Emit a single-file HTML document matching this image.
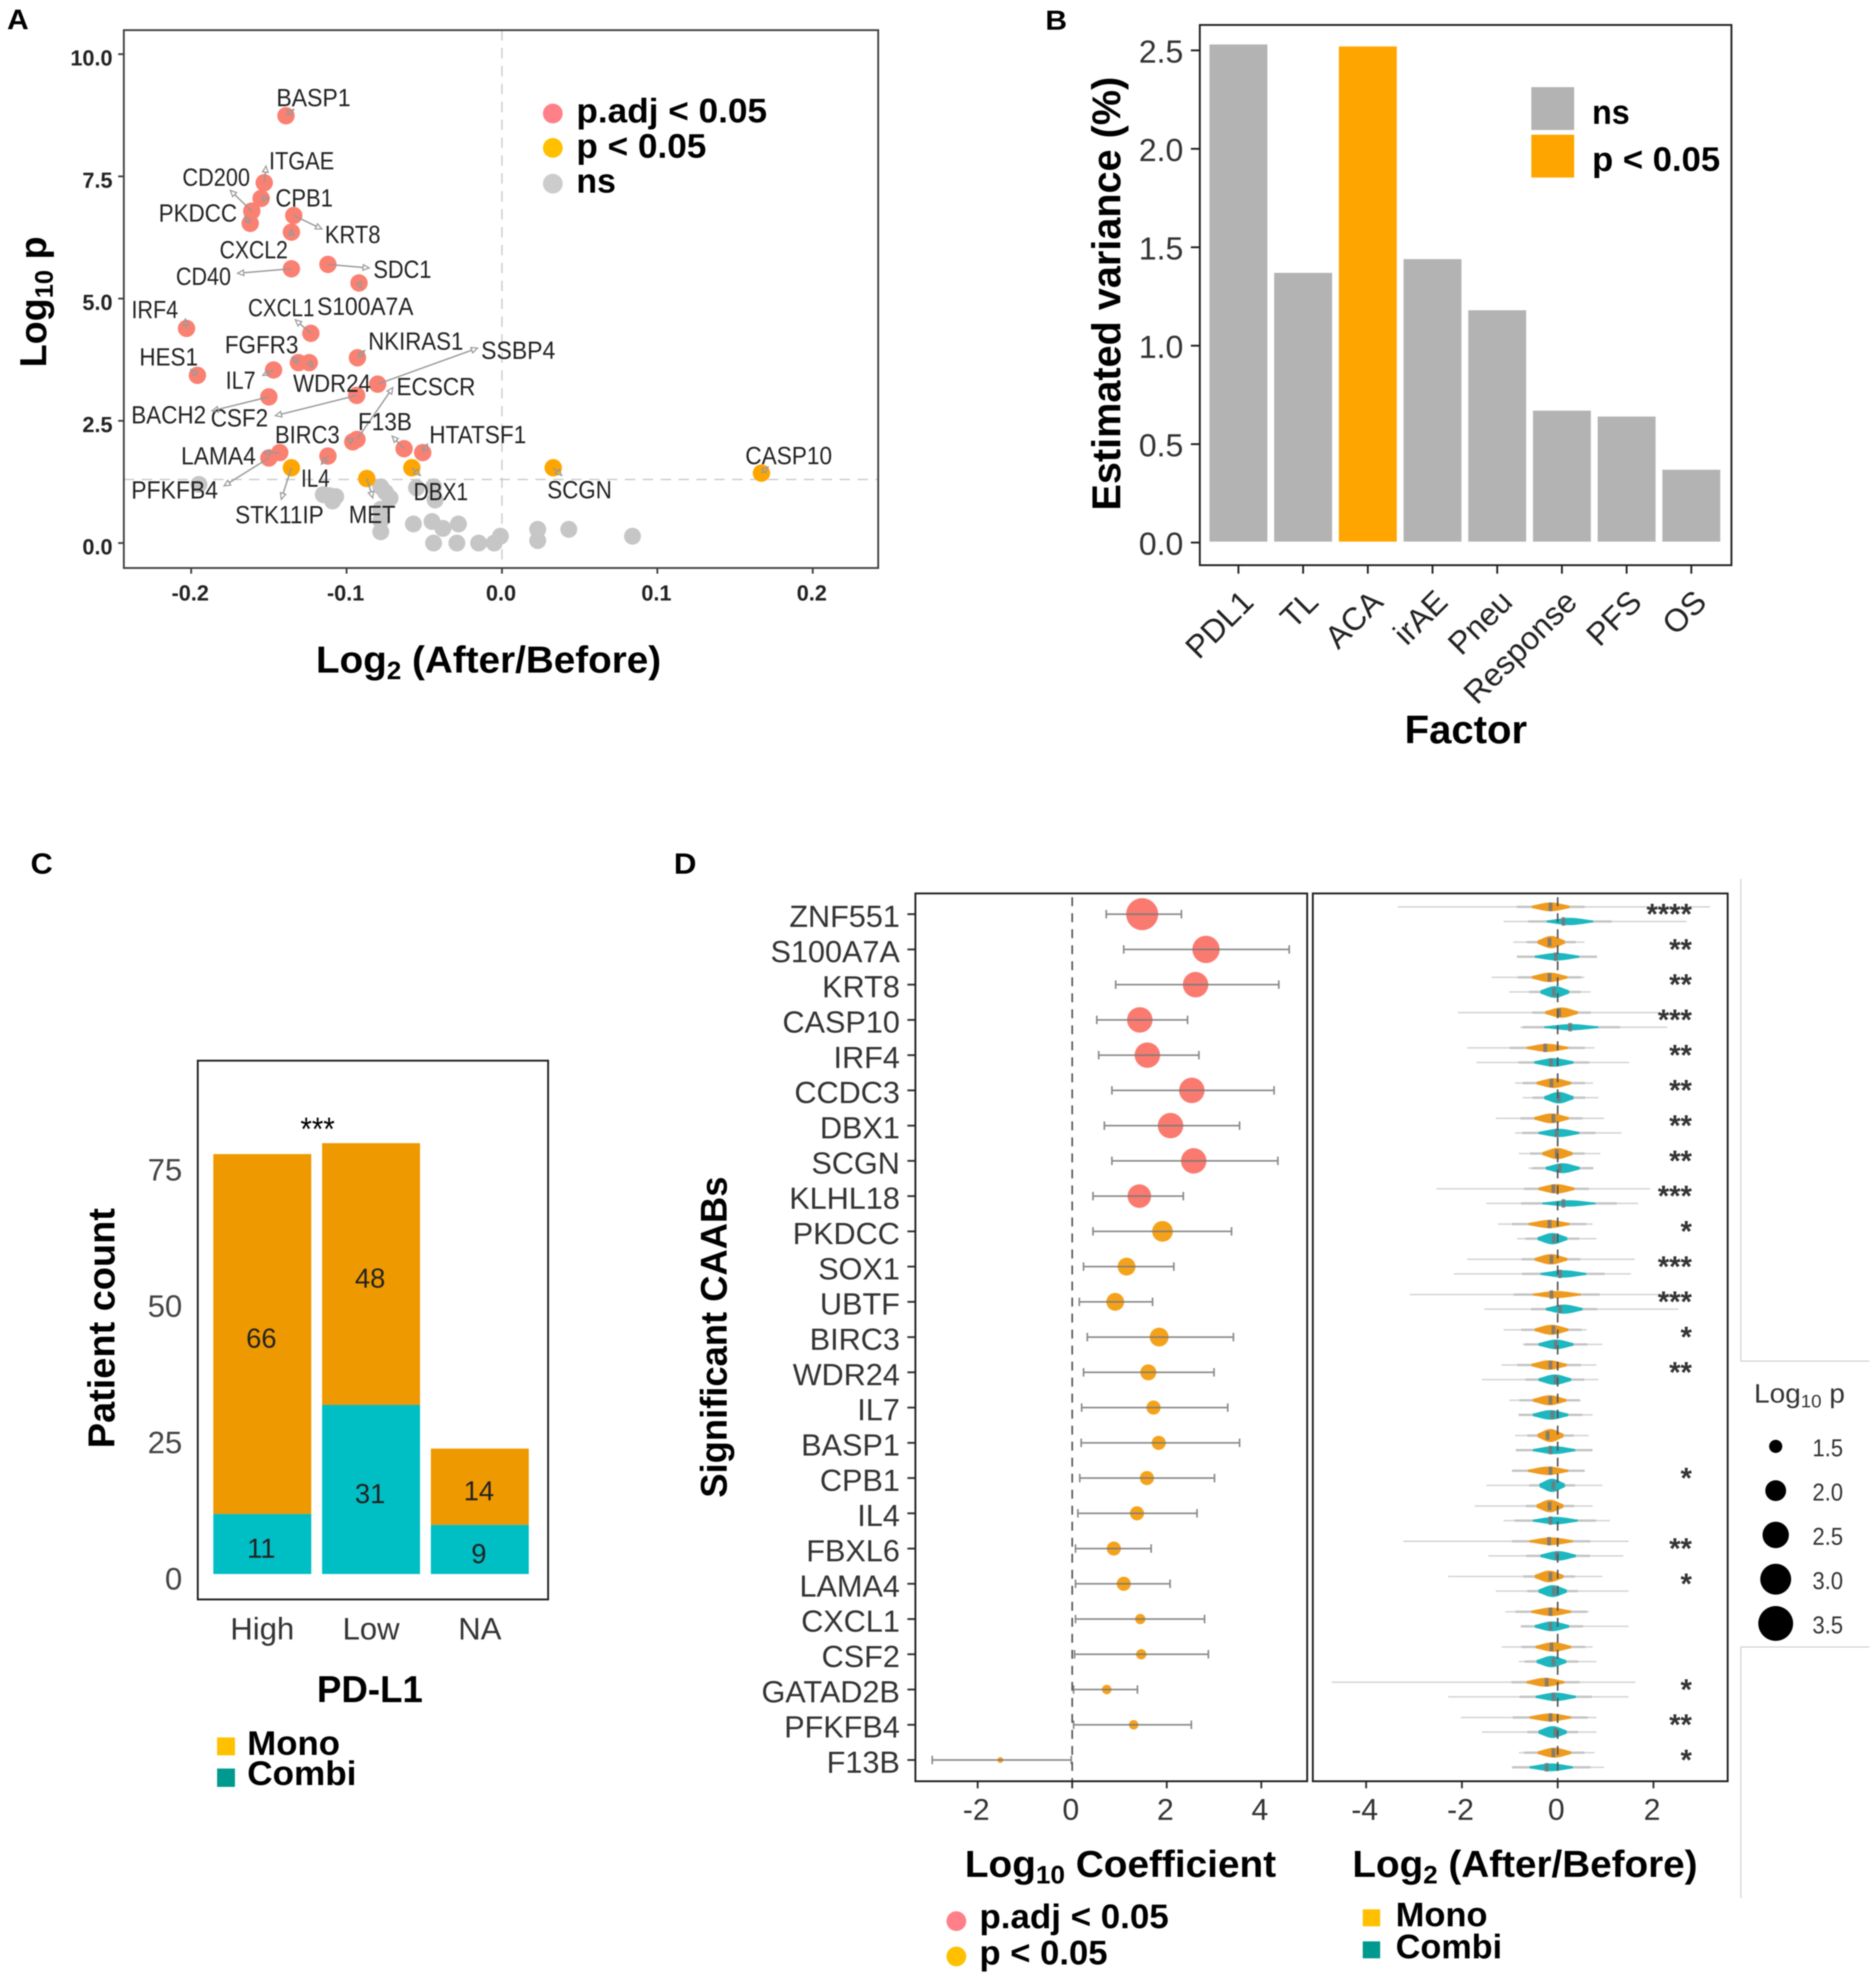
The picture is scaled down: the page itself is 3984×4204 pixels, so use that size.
<!DOCTYPE html>
<html lang="en">
<head>
<meta charset="utf-8">
<title>CAAB multi-panel figure</title>
<style>
html,body{margin:0;padding:0;background:#fff}
svg{display:block;filter:blur(1.2px)}
text{font-family:"Liberation Sans",Arial,sans-serif}
.b{font-weight:700;fill:#000}
</style>
</head>
<body>
<svg id="chart" xmlns="http://www.w3.org/2000/svg" width="3984" height="4204" viewBox="0 0 3984 4204">
<rect x="0" y="0" width="3984" height="4204" fill="#fff"/>

<!-- Panel letters -->
<text class="b" x="15" y="62" font-size="60" textLength="46" lengthAdjust="spacingAndGlyphs">A</text>
<text class="b" x="2220" y="63" font-size="58" textLength="46" lengthAdjust="spacingAndGlyphs">B</text>
<text class="b" x="65" y="1855" font-size="62" textLength="47" lengthAdjust="spacingAndGlyphs">C</text>
<text class="b" x="1431" y="1855" font-size="62" textLength="48" lengthAdjust="spacingAndGlyphs">D</text>

<!-- Panel A static -->
<g id="panelA"></g>
<rect x="263" y="64" width="1602" height="1142" fill="none" stroke="#444" stroke-width="4"/>
<circle cx="1174" cy="241" r="21" fill="#FF8088"/>
<circle cx="1174" cy="314" r="21" fill="#FFC000"/>
<circle cx="1174" cy="390" r="21" fill="#CCCCCC"/>
<text class="b" x="1224" y="260" font-size="72" textLength="405" lengthAdjust="spacingAndGlyphs">p.adj &lt; 0.05</text>
<text class="b" x="1224" y="335" font-size="72" textLength="276" lengthAdjust="spacingAndGlyphs">p &lt; 0.05</text>
<text class="b" x="1224" y="409" font-size="72" textLength="84" lengthAdjust="spacingAndGlyphs">ns</text>
<text class="b" x="671" y="1428" font-size="80" textLength="733" lengthAdjust="spacingAndGlyphs">Log<tspan font-size="54" dy="14">2</tspan><tspan dy="-14"> (After/Before)</tspan></text>
<text class="b" x="98" y="780" font-size="80" transform="rotate(-90 98 780)" textLength="278" lengthAdjust="spacingAndGlyphs">Log<tspan font-size="54" dy="14">10</tspan><tspan dy="-14"> p</tspan></text>

<!-- Panel B static -->
<g id="panelB"></g>
<rect x="2548" y="53" width="1129" height="1147" fill="none" stroke="#222" stroke-width="4"/>
<rect x="3252" y="185" width="91" height="91" fill="#B3B3B3"/>
<rect x="3252" y="286" width="91" height="91" fill="#FFA500"/>
<text class="b" x="3381" y="263" font-size="72" textLength="80" lengthAdjust="spacingAndGlyphs">ns</text>
<text class="b" x="3381" y="363" font-size="72" textLength="272" lengthAdjust="spacingAndGlyphs">p &lt; 0.05</text>
<text class="b" x="2983" y="1578" font-size="84" textLength="260" lengthAdjust="spacingAndGlyphs">Factor</text>
<text class="b" x="2379" y="1084" font-size="85" transform="rotate(-90 2379 1084)" textLength="921" lengthAdjust="spacingAndGlyphs">Estimated variance (%)</text>

<!-- Panel C static -->
<g id="panelC"></g>
<rect x="420" y="2252" width="744" height="1144" fill="none" stroke="#222" stroke-width="4"/>
<text x="638" y="2421" font-size="70" fill="#000" textLength="73" lengthAdjust="spacingAndGlyphs">***</text>
<text class="b" x="673" y="3614" font-size="80" textLength="225" lengthAdjust="spacingAndGlyphs">PD-L1</text>
<text class="b" x="243" y="3075" font-size="80" transform="rotate(-90 243 3075)" textLength="510" lengthAdjust="spacingAndGlyphs">Patient count</text>
<rect x="461" y="3689" width="38" height="38" fill="#FFC000"/>
<rect x="461" y="3755" width="38" height="39" fill="#009990"/>
<text class="b" x="525" y="3726" font-size="72" textLength="197" lengthAdjust="spacingAndGlyphs">Mono</text>
<text class="b" x="525" y="3790" font-size="72" textLength="232" lengthAdjust="spacingAndGlyphs">Combi</text>

<!-- Panel D static -->
<g id="panelD1"></g>
<g id="panelD2"></g>
<rect x="1944" y="1897" width="832" height="1885" fill="none" stroke="#222" stroke-width="4"/>
<rect x="2788" y="1897" width="881" height="1885" fill="none" stroke="#222" stroke-width="4"/>
<text class="b" x="1543" y="3180" font-size="79" transform="rotate(-90 1543 3180)" textLength="682" lengthAdjust="spacingAndGlyphs">Significant CAABs</text>
<text class="b" x="2049" y="3985" font-size="80" textLength="661" lengthAdjust="spacingAndGlyphs">Log<tspan font-size="54" dy="14">10</tspan><tspan dy="-14"> Coefficient</tspan></text>
<text class="b" x="2872" y="3985" font-size="80" textLength="733" lengthAdjust="spacingAndGlyphs">Log<tspan font-size="54" dy="14">2</tspan><tspan dy="-14"> (After/Before)</tspan></text>
<circle cx="2031" cy="4079" r="21" fill="#FF8088"/>
<circle cx="2031" cy="4154" r="21" fill="#FFC000"/>
<text class="b" x="2080" y="4094" font-size="72" textLength="402" lengthAdjust="spacingAndGlyphs">p.adj &lt; 0.05</text>
<text class="b" x="2080" y="4171" font-size="72" textLength="272" lengthAdjust="spacingAndGlyphs">p &lt; 0.05</text>
<rect x="2894" y="4054" width="37" height="36" fill="#FFC000"/>
<rect x="2894" y="4122" width="37" height="36" fill="#009990"/>
<text class="b" x="2964" y="4090" font-size="72" textLength="195" lengthAdjust="spacingAndGlyphs">Mono</text>
<text class="b" x="2964" y="4158" font-size="72" textLength="226" lengthAdjust="spacingAndGlyphs">Combi</text>
<text x="3725" y="2978" font-size="57" fill="#333" textLength="193" lengthAdjust="spacingAndGlyphs">Log<tspan font-size="38" dy="10">10</tspan><tspan dy="-10"> p</tspan></text>
<g id="sizeLegend"></g>
<path d="M3697 1866V2890H3970" fill="none" stroke="#c8c8c8" stroke-width="2"/>
<path d="M3970 3497H3697V4030" fill="none" stroke="#c8c8c8" stroke-width="2"/>
</svg>

<script>
/* ---------- Panel A data ---------- */
const aGenes = ['BASP1','ITGAE','CPB1','CD200','PKDCC','KRT8','CXCL2','SDC1','CD40','S100A7A','IRF4','CXCL1','HES1','IL7','FGFR3','WDR24','NKIRAS1','SSBP4','CSF2','BACH2','ECSCR','BIRC3','F13B','HTATSF1','LAMA4','PFKFB4','IL4','STK11IP','MET','DBX1','SCGN','CASP10'];
const aLogFC = [-0.139,-0.153,-0.155,-0.161,-0.162,-0.134,-0.1355,-0.112,-0.1355,-0.092,-0.203,-0.123,-0.196,-0.147,-0.131,-0.124,-0.093,-0.080,-0.0935,-0.150,-0.0933,-0.096,-0.063,-0.051,-0.143,-0.150,-0.112,-0.1355,-0.087,-0.058,0.033,0.167];
const aLogP = [8.74,7.37,7.05,6.79,6.54,6.70,6.36,5.70,5.61,5.32,4.39,4.29,3.43,3.54,3.69,3.69,3.79,3.25,3.02,2.99,2.12,2.07,1.93,1.85,1.85,1.74,1.78,1.54,1.32,1.54,1.54,1.43];
const aSignificant = ['padj','padj','padj','padj','padj','padj','padj','padj','padj','padj','padj','padj','padj','padj','padj','padj','padj','padj','padj','padj','padj','padj','padj','padj','padj','padj','padj','p','p','p','p','p'];
const nsLogFC = [-0.195,-0.115,-0.111,-0.107,-0.109,-0.078,-0.075,-0.072,-0.078,-0.078,-0.078,-0.055,-0.044,-0.043,-0.057,-0.045,-0.038,-0.028,-0.044,-0.029,-0.015,-0.005,-0.001,0.023,0.023,0.043,0.084];
const nsLogP = [1.20,0.99,0.97,0.95,0.86,1.15,1.04,0.92,0.69,0.46,0.23,1.13,1.15,0.88,0.39,0.44,0.30,0.39,0,0,0,0,0.14,0.28,0.05,0.28,0.14];
const aXTicks = [-0.2,-0.1,0,0.1,0.2];
const aXTickLabels = ['-0.2','-0.1','0.0','0.1','0.2'];
const aYTicks = [0,2.5,5,7.5,10];
const aYTickLabels = ['0.0','2.5','5.0','7.5','10.0'];

/* ---------- Panel B data ---------- */
const bFactors = ['PDL1','TL','ACA','irAE','Pneu','Response','PFS','OS'];
const bVariance = [2.53,1.37,2.52,1.44,1.18,0.67,0.64,0.37];
const bSignificant = [false,false,true,false,false,false,false,false];
const bYTicks = [0,0.5,1,1.5,2,2.5];
const bYTickLabels = ['0.0','0.5','1.0','1.5','2.0','2.5'];

/* ---------- Panel C data ---------- */
const cCategories = ['High','Low','NA'];
const cCombi = [11,31,9];
const cMono = [66,48,14];
const cYTicks = [0,25,50,75];

/* ---------- Panel D data ---------- */
const dGenes = ['ZNF551','S100A7A','KRT8','CASP10','IRF4','CCDC3','DBX1','SCGN','KLHL18','PKDCC','SOX1','UBTF','BIRC3','WDR24','IL7','BASP1','CPB1','IL4','FBXL6','LAMA4','CXCL1','CSF2','GATAD2B','PFKFB4','F13B'];
const dCoef = [1.48,2.83,2.61,1.43,1.59,2.53,2.08,2.57,1.42,1.91,1.15,0.91,1.84,1.61,1.72,1.83,1.58,1.37,0.88,1.09,1.44,1.46,0.73,1.30,-1.52];
const dCoefLow = [0.72,1.09,0.92,0.52,0.56,0.84,0.68,0.84,0.44,0.44,0.24,0.15,0.32,0.24,0.20,0.19,0.16,0.12,0.07,0.07,0.07,0.05,0.03,0.03,-2.96];
const dCoefHigh = [2.31,4.59,4.37,2.44,2.68,4.27,3.54,4.35,2.35,3.37,2.15,1.70,3.41,3.00,3.29,3.54,3.01,2.64,1.67,2.07,2.80,2.88,1.38,2.52,-0.02];
const dLogP = [3.14,2.6,2.41,2.41,2.41,2.41,2.41,2.41,2.23,1.99,1.78,1.78,1.85,1.66,1.55,1.55,1.55,1.55,1.55,1.55,1.37,1.37,1.34,1.34,1.23];
const dAdjusted = [true,true,true,true,true,true,true,true,true,false,false,false,false,false,false,false,false,false,false,false,false,false,false,false,false];
const dStars = ['****','**','**','***','**','**','**','**','***','*','***','***','*','**','','','*','','**','*','','','*','**','*'];
const dCoefTicks = [-2,0,2,4];
const dFcTicks = [-4,-2,0,2];
const dSizeLegend = [1.5,2,2.5,3,3.5];
const monoMin = [-3.34,-0.93,-1.38,-2.08,-1.89,-0.89,-1.29,-0.81,-2.53,-1.25,-1.89,-3.09,-1.13,-1.17,-1.01,-0.89,-0.88,-1.73,-3.22,-2.29,-1.09,-1.17,-4.72,-2.02,-0.81];
const monoMax = [3.18,0.56,0.56,2.10,0.77,0.74,0.97,0.89,1.93,0.73,1.61,2.40,0.61,0.81,0.48,0.65,0.57,0.73,1.48,0.93,0.65,0.73,1.62,0.81,0.77];
const monoCoreLow = [-0.54,-0.42,-0.54,-0.26,-0.65,-0.44,-0.49,-0.32,-0.40,-0.61,-0.48,-0.52,-0.48,-0.55,-0.52,-0.42,-0.62,-0.44,-0.59,-0.48,-0.55,-0.46,-0.65,-0.59,-0.42];
const monoCoreHigh = [0.25,0.15,0.20,0.42,0.22,0.28,0.23,0.31,0.35,0.25,0.20,0.48,0.22,0.19,0.18,0.12,0.22,0.12,0.32,0.12,0.28,0.28,0.14,0.28,0.28];
const monoMedian = [-0.15,-0.17,-0.17,0.03,-0.26,-0.13,-0.09,-0.02,-0.09,-0.17,-0.13,-0.13,-0.09,-0.15,-0.15,-0.21,-0.15,-0.17,-0.18,-0.15,-0.15,-0.13,-0.23,-0.15,-0.09];
const combiMin = [-1.13,-0.78,-1.01,-0.78,-1.70,-0.73,-0.89,-0.61,-1.49,-0.85,-2.17,-1.53,-0.73,-1.58,-0.77,-0.85,-1.49,-1.13,-1.45,-1.29,-0.73,-0.81,-2.29,-1.58,-0.85];
const combiMax = [2.69,0.69,0.69,2.29,1.49,0.85,1.33,0.73,1.68,0.81,1.53,2.52,0.93,0.85,0.73,0.73,0.93,1.09,1.37,1.48,1.48,0.81,1.48,0.81,0.97];
const combiCoreLow = [-0.23,-0.48,-0.36,-0.28,-0.49,-0.28,-0.40,-0.25,-0.32,-0.42,-0.36,-0.25,-0.40,-0.40,-0.52,-0.52,-0.38,-0.52,-0.36,-0.40,-0.48,-0.44,-0.46,-0.40,-0.59];
const combiCoreHigh = [0.74,0.45,0.24,0.85,0.33,0.33,0.45,0.46,0.79,0.20,0.60,0.52,0.33,0.28,0.22,0.37,0.15,0.42,0.38,0.19,0.24,0.18,0.38,0.19,0.32];
const combiMedian = [0.12,-0.04,-0.08,0.26,-0.14,0.02,-0.02,0.04,0.12,-0.08,0.05,0.05,-0.04,-0.04,-0.11,-0.15,-0.09,-0.15,-0.02,-0.08,-0.15,-0.09,-0.09,-0.05,-0.23];

/* Layout only: label offsets from each point, in source-crop units [labelDx, baselineDy, labelWidth, arrowDx, arrowDy] */
const labelPlacement = {
  BASP1:[-16,-21,124,13,-14], ITGAE:[8,-30,109,3,-37], CPB1:[24,18,96,13,0], CD200:[-116,-56,113,-36,-46],
  PKDCC:[-153,-4,131,-9,-15], KRT8:[52,61,93,47,30], CXCL2:[-120,58,114,0,-7], SDC1:[76,30,97,69,8],
  CD40:[-193,36,92,-90,10], S100A7A:[-70,71,161,4,12], IRF4:[-92,-23,78,-2,-21], CXCL1:[-105,-38,111,-26,-30],
  HES1:[-97,-22,98,-11,-13], IL7:[-80,42,50,-18,12], FGFR3:[-123,-21,123,-10,-12], WDR24:[-27,65,130,6,10],
  NKIRAS1:[18,-18,159,12,-16], SSBP4:[173,-56,124,167,-80], CSF2:[-244,69,96,-136,45], BACH2:[-230,59,125,-95,31],
  ECSCR:[66,-98,132,60,-115], BIRC3:[-130,3,108,-10,-8], F13B:[-77,-41,90,-20,-28], HTATSF1:[11,-21,162,8,-19],
  LAMA4:[-165,26,125,-27,0], PFKFB4:[-230,90,145,-75,62], IL4:[-45,68,48,-11,18], STK11IP:[-94,123,148,-17,70],
  MET:[-30,99,78,10,43], DBX1:[3,72,91,14,17], SCGN:[-10,68,108,14,17], CASP10:[-27,-20,145,11,-14]
};

const SVGNS = 'http://www.w3.org/2000/svg';
function mk(tag, attrs, parent, content) {
  const el = document.createElementNS(SVGNS, tag);
  for (const k in attrs) el.setAttribute(k, attrs[k]);
  if (content !== undefined) el.textContent = content;
  parent.appendChild(el);
  return el;
}

/* ---------- Panel A ---------- */
const gA = document.getElementById('panelA');
const aX = v => 1066 + v * 3300;
const aY = v => 1153 - v * 103.8;
const CX = 1.2704, CY = 0.9566;
let el;

el = mk('line', {x1:aX(0), x2:aX(0), y1:64, y2:1206, stroke:'#ccc', 'stroke-width':3, 'stroke-dasharray':'22 16'}, gA);


el = mk('line', {x1:263, x2:1865, y1:aY(1.3), y2:aY(1.3), stroke:'#ccc', 'stroke-width':3, 'stroke-dasharray':'22 16'}, gA);



aXTicks.forEach((t, i) => {
  const tick = mk('line', {x1:aX(t), x2:aX(t), y1:1206, y2:1218, stroke:'#444', 'stroke-width':4}, gA);
  
  
  const lab = mk('text', {x:aX(t) - 2, y:1275, 'font-size':46, 'font-weight':700, fill:'#222', 'text-anchor':'middle'}, gA, aXTickLabels[i]);
  
  
});
aYTicks.forEach((t, i) => {
  const tick = mk('line', {x1:251, x2:263, y1:aY(t), y2:aY(t), stroke:'#444', 'stroke-width':4}, gA);
  
  
  const lab = mk('text', {x:239, y:aY(t) + 24, 'font-size':46, 'font-weight':700, fill:'#222', 'text-anchor':'end'}, gA, aYTickLabels[i]);
  
  
});
nsLogFC.forEach((v, i) => {
  const dot = mk('circle', {cx:aX(v), cy:aY(nsLogP[i]), r:18, fill:'#C6C6C6'}, gA);
  
  
});
aGenes.forEach((g, i) => {
  const dot = mk('circle', {cx:aX(aLogFC[i]), cy:aY(aLogP[i]), r:18.5, fill:aSignificant[i] === 'padj' ? '#FA8072' : '#FFA500'}, gA);
  
  
});
aGenes.forEach((g, i) => {
  const p = labelPlacement[g];
  const px = aX(aLogFC[i]), py = aY(aLogP[i]);
  const ex = px + p[3] * CX, ey = py + p[4] * CY;
  const ang = Math.atan2(ey - py, ex - px);
  const bx = ex - 13 * Math.cos(ang), by = ey - 13 * Math.sin(ang);
  const nx = -Math.sin(ang) * 6, ny = Math.cos(ang) * 6;
  const line = mk('line', {x1:px, y1:py, x2:bx, y2:by, stroke:'#999', 'stroke-width':3}, gA);
  
  
  const head = mk('polygon', {points:[ex + ',' + ey, (bx + nx) + ',' + (by + ny), (bx - nx) + ',' + (by - ny)].join(' '), fill:'none', stroke:'#999', 'stroke-width':2.5}, gA);
  
  
  const lab = mk('text', {x:px + p[0] * CX, y:py + p[1] * CY, 'font-size':53, fill:'#222', textLength:p[2] * CX, lengthAdjust:'spacingAndGlyphs'}, gA, g);
  
  
});

/* ---------- Panel B ---------- */
const gB = document.getElementById('panelB');
const bY = v => 1152 - v * 418;
const bX = i => 2630 + i * 137.4;
bFactors.forEach((f, i) => {
  const bar = mk('rect', {x:bX(i) - 61.5, y:bY(bVariance[i]), width:123, height:bY(0) - 2 - bY(bVariance[i]), fill:bSignificant[i] ? '#FFA500' : '#B3B3B3'}, gB);
  
  
  const tick = mk('line', {x1:bX(i), x2:bX(i), y1:1200, y2:1218, stroke:'#222', 'stroke-width':4}, gB);
  
  
  const tx = bX(i) + 36, ty = 1282;
  const lab = mk('text', {x:tx, y:ty, 'font-size':68, fill:'#222', 'text-anchor':'end', transform:'rotate(-45 ' + tx + ' ' + ty + ')'}, gB, f);
  
  
});
bYTicks.forEach((t, i) => {
  const tick = mk('line', {x1:2529, x2:2548, y1:bY(t), y2:bY(t), stroke:'#222', 'stroke-width':4}, gB);
  
  
  const lab = mk('text', {x:2513, y:bY(t) + 26, 'font-size':68, fill:'#333', 'text-anchor':'end'}, gB, bYTickLabels[i]);
  
  
});

/* ---------- Panel C ---------- */
const gC = document.getElementById('panelC');
const cY = v => 3342 - v * 11.58;
const cX = i => 557 + i * 231;
cCategories.forEach((c, i) => {
  const top = cCombi[i] + cMono[i];
  const monoBar = mk('rect', {x:cX(i) - 104, y:cY(top), width:208, height:cY(cCombi[i]) - cY(top), fill:'#EF9900'}, gC);
  
  
  const combiBar = mk('rect', {x:cX(i) - 104, y:cY(cCombi[i]), width:208, height:cY(0) - cY(cCombi[i]), fill:'#00BFC4'}, gC);
  
  
  const monoLab = mk('text', {x:cX(i) - 2, y:(cY(top) + cY(cCombi[i])) / 2 + 29, 'font-size':58, fill:'#222', 'text-anchor':'middle'}, gC, cMono[i]);
  
  
  const combiLab = mk('text', {x:cX(i) - 2, y:(cY(cCombi[i]) + cY(0)) / 2 + 29, 'font-size':58, fill:'#222', 'text-anchor':'middle'}, gC, cCombi[i]);
  
  
  const cat = mk('text', {x:cX(i), y:3481, 'font-size':66, fill:'#333', 'text-anchor':'middle'}, gC, c);
  
  
});
cYTicks.forEach(t => {
  const lab = mk('text', {x:387, y:cY(t) + 33, 'font-size':66, fill:'#444', 'text-anchor':'end'}, gC, t);
  
  
});

/* ---------- Panel D ---------- */
const gD1 = document.getElementById('panelD1');
const gD2 = document.getElementById('panelD2');
const rowY = i => 1941 + i * 74.83;
const coefX = v => 2277 + v * 100.4;
const fcX = v => 3308 + v * 101.7;
const dotR = v => Math.sqrt(Math.max(16, 196 + 586 * (v - 1.5)));

dGenes.forEach((g, i) => {
  const y = rowY(i);
  const tick = mk('line', {x1:1927, x2:1944, y1:y, y2:y, stroke:'#333', 'stroke-width':4}, gD1);
  
  
  const lab = mk('text', {x:1911, y:y + 27, 'font-size':65, fill:'#333', 'text-anchor':'end'}, gD1, g);
  
  
  const dot = mk('circle', {cx:coefX(dCoef[i]), cy:y, r:dotR(dLogP[i]), fill:dAdjusted[i] ? '#FA7A70' : '#F5A21B'}, gD1);
  
  
  const x1 = coefX(dCoefLow[i]), x2 = coefX(dCoefHigh[i]);
  const err = mk('path', {d:'M' + x1 + ' ' + (y - 9) + 'V' + (y + 9) + 'M' + x1 + ' ' + y + 'H' + x2 + 'M' + x2 + ' ' + (y - 9) + 'V' + (y + 9), fill:'none', stroke:'#777', 'stroke-width':3.5, opacity:0.85}, gD1);
  
  
});
el = mk('line', {x1:coefX(0), x2:coefX(0), y1:1905, y2:3782, stroke:'#555', 'stroke-width':3.5, 'stroke-dasharray':'19 15'}, gD1);


dCoefTicks.forEach(t => {
  const tick = mk('line', {x1:coefX(t), x2:coefX(t), y1:3782, y2:3797, stroke:'#333', 'stroke-width':4}, gD1);
  
  
  const lab = mk('text', {x:coefX(t) - 3, y:3864, 'font-size':64, fill:'#333', 'text-anchor':'middle'}, gD1, t);
  
  
});

function drawViolin(name, y, lo, hi, coreLo, coreHi, med, color) {
  const whisker = mk('line', {x1:fcX(lo), x2:fcX(hi), y1:y, y2:y, stroke:'#d2d2d2', 'stroke-width':3}, gD2);
  
  
  const w = coreHi - coreLo;
  const shoulder = mk('line', {x1:fcX(coreLo - w * 0.4), x2:fcX(coreHi + w * 0.4), y1:y, y2:y, stroke:'#c4c4c4', 'stroke-width':5}, gD2);
  
  
  const h = Math.min(15, Math.max(6, 7.5 / w));
  const mid = (coreHi + coreLo) / 2;
  const up = [], down = [];
  for (let k = 0; k <= 16; k++) {
    const v = coreLo + w * k / 16;
    const t = (v - mid) / (w / 2);
    const hh = h * Math.exp(-t * t * 1.3);
    up.push(fcX(v).toFixed(1) + ',' + (y - hh).toFixed(1));
    down.unshift(fcX(v).toFixed(1) + ',' + (y + hh).toFixed(1));
  }
  const body = mk('polygon', {points:up.concat(down).join(' '), fill:color}, gD2);
  
  
  const m = mk('rect', {x:fcX(med) - 4, y:y - 9, width:8, height:18, fill:'#777', opacity:0.85}, gD2);
  
  
}
dGenes.forEach((g, i) => {
  const y = rowY(i);
  drawViolin('violin-mono-' + g.toLowerCase(), y - 15.5, monoMin[i], monoMax[i], monoCoreLow[i], monoCoreHigh[i], monoMedian[i], '#EE9A1E');
  drawViolin('violin-combi-' + g.toLowerCase(), y + 15.5, combiMin[i], combiMax[i], combiCoreLow[i], combiCoreHigh[i], combiMedian[i], '#1CB7BF');
  if (dStars[i]) {
    const star = mk('text', {x:3593, y:y + 21, 'font-size':62, 'font-weight':700, fill:'#333', 'text-anchor':'end'}, gD2, dStars[i]);
    
    
  }
});
el = mk('line', {x1:fcX(0), x2:fcX(0), y1:1905, y2:3782, stroke:'#555', 'stroke-width':3.5, 'stroke-dasharray':'19 15'}, gD2);


dFcTicks.forEach(t => {
  const tick = mk('line', {x1:fcX(t), x2:fcX(t), y1:3782, y2:3797, stroke:'#333', 'stroke-width':4}, gD2);
  
  
  const lab = mk('text', {x:fcX(t) - 3, y:3864, 'font-size':64, fill:'#333', 'text-anchor':'middle'}, gD2, t);
  
  
});

const gS = document.getElementById('sizeLegend');
dSizeLegend.forEach((v, i) => {
  const dot = mk('circle', {cx:3771, cy:3071 + i * 94, r:dotR(v), fill:'#000'}, gS);
  
  
  const lab = mk('text', {x:3849, y:3092 + i * 94, 'font-size':52, fill:'#333', textLength:65, lengthAdjust:'spacingAndGlyphs'}, gS, v.toFixed(1));
  
  
});
</script>
</body>
</html>
